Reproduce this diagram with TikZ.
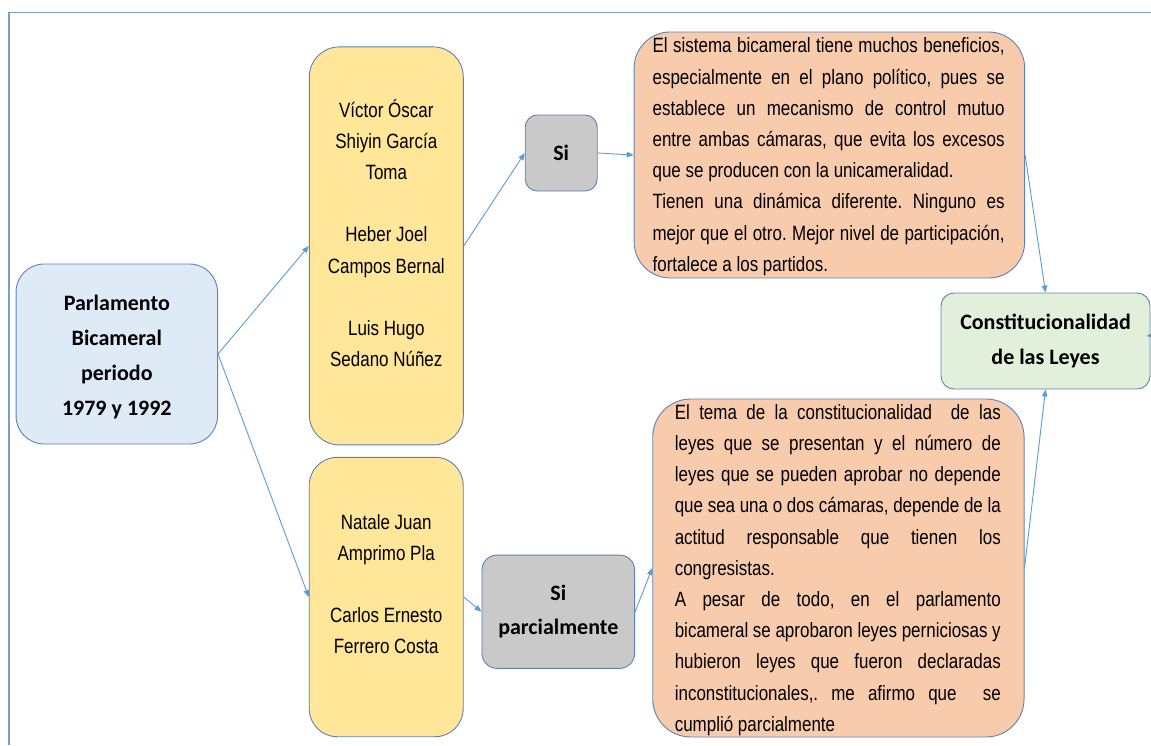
\documentclass[tikz,border=0pt]{standalone}
\usepackage{fontspec}
\usetikzlibrary{arrows.meta}
\newfontfamily\narrowf{Liberation Sans}[FakeStretch=0.82]
\newfontfamily\calibf{Carlito}
\definecolor{bordc}{HTML}{5E82B4}
\definecolor{framec}{HTML}{7C9CCB}
\definecolor{arrc}{HTML}{5B9BD5}
\definecolor{bluef}{HTML}{DEEBF7}
\definecolor{yellf}{HTML}{FFE699}
\definecolor{greyf}{HTML}{C9C9C9}
\definecolor{orf}{HTML}{F8CBAD}
\definecolor{grf}{HTML}{E2EFDA}
\newcommand\jl[2]{{\spaceskip=0pt\xspaceskip=0pt\makebox[#1][s]{#2}}}
\begin{document}
\begin{tikzpicture}[x=1pt,y=-1pt,
  box/.style={draw=bordc,line width=0.9pt,inner sep=0pt,rounded corners=#1},
  boldtxt/.style={font=\calibf\bfseries\fontsize{22}{35}\selectfont,align=center,text=black},
  narrowtxt/.style={font=\narrowf\fontsize{20.7}{31.2}\selectfont\frenchspacing,inner sep=0pt,text=black},
  conn/.style={draw=arrc,line width=0.9pt,-{Triangle[length=7pt,width=5.5pt]}},
]
\useasboundingbox (0,0) rectangle (1151,745);
\coordinate (ftl) at (9,12.7);
\coordinate (ftr) at (1151,12.7);
\coordinate (fbl) at (9,745);
\draw[framec,line width=1.2pt] (ftr) -- (ftl) -- (fbl);

% left node
\node[box=28pt,fill=bluef,minimum width=201.5pt,minimum height=180pt] (parl) at (116.8,354) {};
\node[boldtxt,inner sep=0pt] (parlt) at (116.8,357)
  {Parlamento\\Bicameral\\periodo\\1979 y 1992};

% yellow boxes
\node[box=30pt,fill=yellf,minimum width=154pt,minimum height=398pt] (y1) at (386.3,245.9) {};
\node[narrowtxt,align=center] (y1t) at (386.3,233)
  {V\'ictor \'Oscar\\Shiyin Garc\'ia\\Toma\\[31.2pt]Heber Joel\\Campos Bernal\\[31.2pt]Luis Hugo\\Sedano N\'u\~nez};
\node[box=28pt,fill=yellf,minimum width=154pt,minimum height=279.4pt] (y2) at (386.2,597) {};
\node[narrowtxt,align=center] (y2t) at (386.2,584)
  {Natale Juan\\Amprimo Pla\\[31.2pt]Carlos Ernesto\\Ferrero Costa};

% grey boxes
\node[box=12pt,fill=greyf,minimum width=72pt,minimum height=76pt,boldtxt] (si) at (561.2,153) {Si};
\node[box=15pt,fill=greyf,minimum width=152.7pt,minimum height=113.3pt,boldtxt,
  font=\calibf\bfseries\fontsize{22}{34}\selectfont] (sp) at (558.3,611.7) {Si\\parcialmente};

% orange boxes
\node[box=36pt,fill=orf,minimum width=390.5pt,minimum height=246pt] (o1) at (829.4,155) {};
\node[narrowtxt,text width=352pt,align=justify] (o1t) at (828.6,156.7)
  {\jl{352pt}{El sistema bicameral tiene muchos beneficios,}\\
   \jl{352pt}{especialmente en el plano pol\'itico, pues se}\\
   \jl{352pt}{establece un mecanismo de control mutuo}\\
   \jl{352pt}{entre ambas c\'amaras, que evita los excesos}\\
   que se producen con la unicameralidad.\\
   \jl{352pt}{Tienen una din\'amica diferente. Ninguno es}\\
   \jl{352pt}{mejor que el otro. Mejor nivel de participaci\'on,}\\
   fortalece a los partidos.};
\node[box=38pt,fill=orf,minimum width=371.3pt,minimum height=338pt] (o2) at (838.4,568) {};
\node[narrowtxt,text width=326pt,align=justify] (o2t) at (837.8,570)
  {\jl{326pt}{El tema de la constitucionalidad \ de las}\\
   \jl{326pt}{leyes que se presentan y el n\'umero de}\\
   \jl{326pt}{leyes que se pueden aprobar no depende}\\
   \jl{326pt}{que sea una o dos c\'amaras, depende de la}\\
   \jl{326pt}{actitud responsable que tienen los}\\
   congresistas.\\
   \jl{326pt}{A pesar de todo, en el parlamento}\\
   \jl{326pt}{bicameral se aprobaron leyes perniciosas y}\\
   \jl{326pt}{hubieron leyes que fueron declaradas}\\
   \jl{326pt}{inconstitucionales,. me afirmo que \ se}\\
   cumpli\'o parcialmente};

% green box
\node[box=13pt,fill=grf,minimum width=209pt,minimum height=96pt,boldtxt,
  font=\calibf\bfseries\fontsize{22}{34.5}\selectfont] (gr) at (1045.5,341)
  {Constitucionalidad\\de las Leyes};

% connectors
\draw[conn] (parl.east) -- (y1.west);
\draw[conn] (parl.east) -- (y2.west);
\draw[conn] (y1.east) -- (si.west);
\draw[conn] (si.east) -- (o1.west);
\draw[conn] (y2.east) -- (sp.west);
\draw[conn] (sp.east) -- (o2.west);
\draw[conn] (o1.east) -- (gr.north);
\draw[conn] (o2.east) -- (gr.south);
\coordinate (offr) at (1190,330);
\draw[conn,shorten >=-4pt] (offr) -- (gr.3);
\end{tikzpicture}
\end{document}
